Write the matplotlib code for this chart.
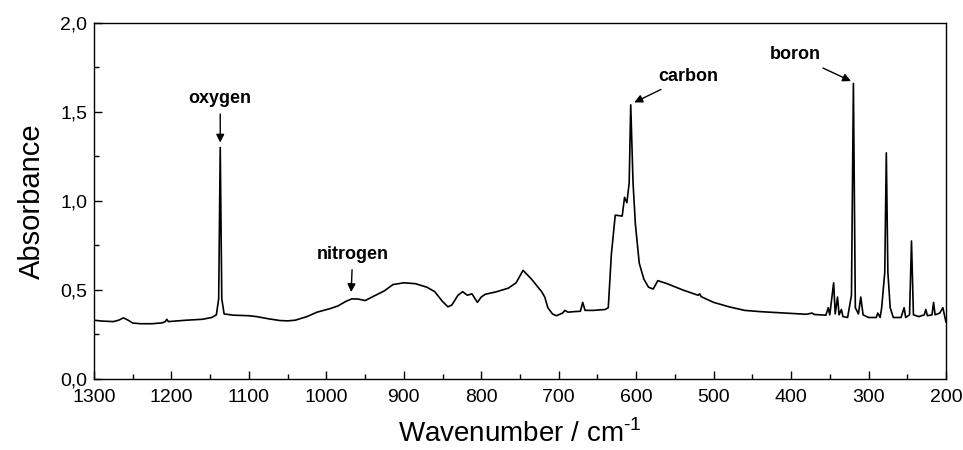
import matplotlib
matplotlib.use("Agg")
import matplotlib.pyplot as plt
from matplotlib.ticker import MultipleLocator, FuncFormatter

plt.rcParams['font.family'] = ['Liberation Sans', 'DejaVu Sans']
plt.rcParams['mathtext.fontset'] = 'custom'
plt.rcParams['mathtext.rm'] = 'Liberation Sans'

# spectrum (wavenumber, absorbance)
wavenumber = [
    1300, 1290, 1275, 1268, 1262, 1256, 1250, 1240, 1225, 1212, 1208, 1206, 1204,
    1195, 1180, 1160, 1148, 1142, 1139, 1137, 1135, 1132, 1120, 1100, 1090, 1075,
    1060, 1050, 1040, 1025, 1012, 995, 985, 975, 967, 958, 950, 940, 925, 914,
    900, 885, 870, 860, 850, 843, 838, 830, 824, 818, 812, 805, 800, 795, 780,
    765, 755, 746, 735, 722, 718, 714, 708, 703, 695, 692, 688, 680, 672, 669,
    666, 655, 640, 636, 632, 627, 618, 615, 612, 609, 607, 604, 601, 596, 590,
    584, 578, 572, 560, 540, 520, 518, 516, 500, 480, 460, 440, 420, 400, 380,
    373, 370, 355, 352, 350, 345, 343, 340, 338, 335, 333, 327, 322, 319.5, 317,
    313, 310, 307, 300, 290, 288, 285, 283, 279, 277, 275, 272, 268, 258, 254,
    252, 247, 244.5, 242, 235, 228, 226, 224, 218, 216, 214, 208, 204, 202, 200,
]
absorbance = [
    0.330, 0.325, 0.322, 0.330, 0.343, 0.330, 0.314, 0.310, 0.310, 0.315, 0.322, 0.335, 0.322,
    0.325, 0.330, 0.335, 0.345, 0.360, 0.450, 1.300, 0.450, 0.365, 0.358, 0.355, 0.350, 0.338,
    0.328, 0.326, 0.330, 0.350, 0.375, 0.395, 0.410, 0.435, 0.450, 0.448, 0.440, 0.462, 0.495, 0.530,
    0.540, 0.535, 0.515, 0.490, 0.435, 0.405, 0.415, 0.470, 0.490, 0.470, 0.478, 0.430, 0.460, 0.475, 0.490,
    0.510, 0.540, 0.610, 0.560, 0.490, 0.460, 0.400, 0.365, 0.355, 0.370, 0.385, 0.375, 0.378, 0.380, 0.430,
    0.385, 0.385, 0.390, 0.400, 0.700, 0.920, 0.915, 1.020, 0.990, 1.100, 1.540, 1.100, 0.870, 0.650, 0.560,
    0.515, 0.505, 0.552, 0.535, 0.500, 0.470, 0.478, 0.462, 0.430, 0.405, 0.385, 0.378, 0.373, 0.368, 0.363,
    0.370, 0.362, 0.358, 0.400, 0.360, 0.540, 0.365, 0.460, 0.360, 0.390, 0.350, 0.345, 0.470, 1.660, 0.400,
    0.365, 0.460, 0.360, 0.345, 0.345, 0.370, 0.345, 0.400, 0.600, 1.270, 0.600, 0.400, 0.345, 0.345, 0.400,
    0.345, 0.360, 0.775, 0.360, 0.350, 0.360, 0.390, 0.355, 0.360, 0.430, 0.360, 0.370, 0.400, 0.360, 0.320,
]

# peak labels: text, peak position, text position, alignment
labels = ["oxygen", "nitrogen", "carbon", "boron"]
label_xy = [(1137, 1.32), (968, 0.48), (604, 1.55), (321, 1.67)]
label_text_xy = [(1137, 1.575), (966, 0.70), (572, 1.70), (362, 1.82)]
label_ha = ["center", "center", "left", "right"]

fig = plt.figure(figsize=(9.63, 4.5), dpi=100)
ax = fig.add_axes([0.0976, 0.158, 0.8847, 0.791])

ax.plot(wavenumber, absorbance, color="black", lw=1.2)

for txt, xy, xyt, ha in zip(labels, label_xy, label_text_xy, label_ha):
    ax.annotate(txt, xy=xy, xytext=xyt, ha=ha, va="center",
                fontsize=13, fontweight="bold",
                arrowprops=dict(arrowstyle="-|>", color="black", lw=1,
                                mutation_scale=12, shrinkA=3, shrinkB=1))

ax.set_xlim(1300, 200)
ax.set_ylim(0, 2.0)
ax.xaxis.set_major_locator(MultipleLocator(100))
ax.xaxis.set_minor_locator(MultipleLocator(50))
ax.yaxis.set_major_locator(MultipleLocator(0.5))
ax.yaxis.set_minor_locator(MultipleLocator(0.25))
ax.yaxis.set_major_formatter(FuncFormatter(lambda v, p: f"{v:.1f}".replace(".", ",")))
ax.tick_params(which="both", direction="in", top=False, right=False, labelsize=14)
ax.tick_params(which="major", length=6, width=1)
ax.tick_params(which="minor", length=3.5, width=1)
ax.tick_params(axis="x", pad=7)
ax.tick_params(axis="y", pad=5)
for s in ax.spines.values():
    s.set_linewidth(1)

ax.set_xlabel("Wavenumber / cm$^{\\mathrm{\\text{-}1}}$", fontsize=20, labelpad=10)
ax.set_ylabel("Absorbance", fontsize=21, labelpad=10)

plt.savefig("out.png", dpi=100)
